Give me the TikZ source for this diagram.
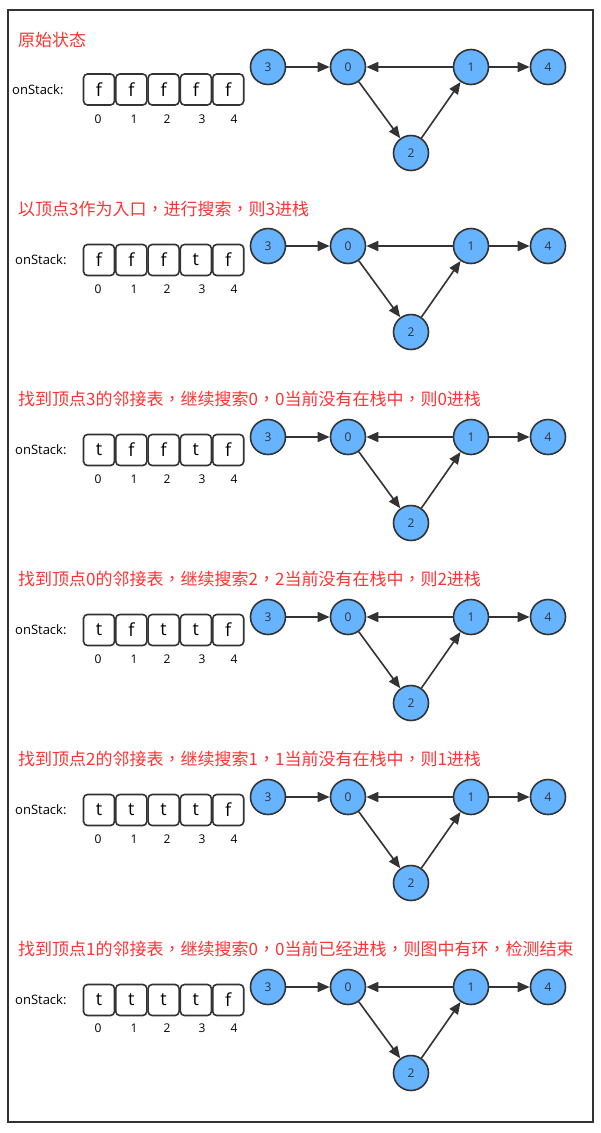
\documentclass[tikz,border=0pt]{standalone}
\usepackage{fontspec}
\setmainfont{Open Sans}
\newfontfamily\cjk{Noto Sans CJK TC}
\usetikzlibrary{arrows.meta}
\definecolor{dk}{HTML}{333333}
\definecolor{nodeblue}{HTML}{66B3FF}
\definecolor{titlered}{HTML}{FF3333}
\tikzset{
  vtx/.style={circle,draw=dk,fill=nodeblue,line width=1.6pt,minimum size=35pt,inner sep=0pt,font=\fontsize{12}{12}\selectfont,text=dk},
  cell/.style={draw=dk,line width=1.6pt,rounded corners=4pt,minimum width=31pt,minimum height=31pt,inner sep=0pt,font=\fontsize{18}{18}\selectfont,text=black},
  idx/.style={font=\fontsize{12}{12}\selectfont,text=black},
  lbl/.style={font=\fontsize{13}{13}\selectfont,text=black,anchor=west,inner sep=0pt},
  ttl/.style={font=\cjk\fontsize{17}{17}\selectfont,text=titlered,anchor=west,inner sep=0pt},
  edge/.style={draw=dk,line width=1.6pt,-{Triangle[length=12pt,width=10pt]}}
}
\newcommand{\rowpic}[8]{%
  % #1 prefix, #2 title y, #3 title, #4 node3 y, #5 box center y, #6 index y, #7 onStack x, #8 values
  \node[ttl] (#1t) at (18,#2) {#3};
  \node[lbl] (#1l) at (#7,#5) {onStack:};
  \foreach \v [count=\i from 0] in {#8} {
    \node[cell] (#1c\i) at ({99+32.3*\i},#5) {\v};
  }
  \foreach \i/\xx in {0/98,1/134,2/167,3/202,4/234} {
    \node[idx] (#1i\i) at (\xx,#6) {\i};
  }
  \node[vtx] (#1n3) at (268,#4) {3};
  \node[vtx] (#1n0) at (348,#4) {0};
  \node[vtx] (#1n1) at (471,#4) {1};
  \node[vtx] (#1n4) at (548,#4) {4};
  \node[vtx] (#1n2) at (411,#4+86) {2};
  \draw[edge] (#1n3) -- (#1n0);
  \draw[edge] (#1n1) -- (#1n0);
  \draw[edge] (#1n1) -- (#1n4);
  \draw[edge] (#1n0) -- (#1n2);
  \draw[edge] (#1n2) -- (#1n1);
}
\begin{document}
\begin{tikzpicture}[x=1pt,y=-1pt]
\useasboundingbox (0,0) rectangle (601,1133);
\draw[dk,line width=2pt] (8,10) rectangle (593,1122);
\rowpic{a}{40}{原始状态}{67}{89.5}{119}{12}{f,f,f,f,f}
\rowpic{b}{209}{以顶点3作为入口，进行搜索，则3进栈}{246}{260}{289}{15}{f,f,f,t,f}
\rowpic{c}{399}{找到顶点3的邻接表，继续搜索0，0当前没有在栈中，则0进栈}{437}{450}{479}{15}{t,f,f,t,f}
\rowpic{d}{579}{找到顶点0的邻接表，继续搜索2，2当前没有在栈中，则2进栈}{617}{630}{659}{15}{t,f,t,t,f}
\rowpic{e}{759}{找到顶点2的邻接表，继续搜索1，1当前没有在栈中，则1进栈}{797}{810}{839}{15}{t,t,t,t,f}
\rowpic{f}{949}{找到顶点1的邻接表，继续搜索0，0当前已经进栈，则图中有环，检测结束}{987}{1000}{1028}{15}{t,t,t,t,f}
\end{tikzpicture}
\end{document}
